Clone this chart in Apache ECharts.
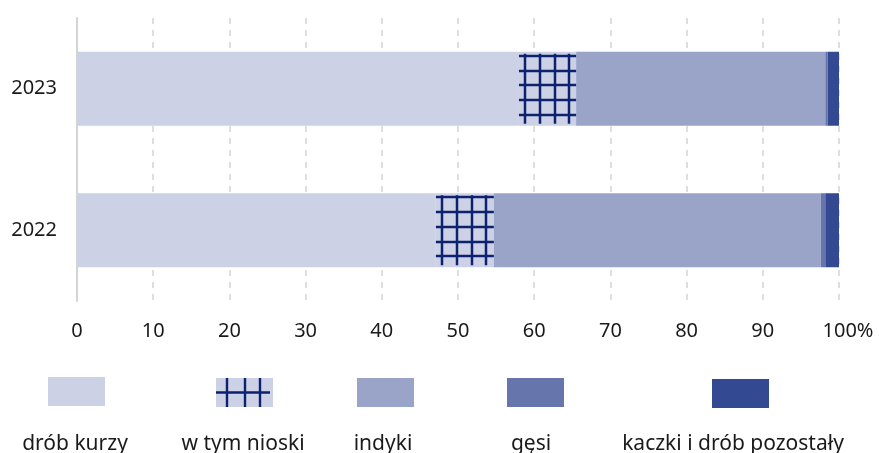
<!DOCTYPE html>
<html>
<head>
<meta charset="utf-8">
<script src="https://cdn.jsdelivr.net/npm/echarts@6/dist/echarts.min.js"></script>
<style>
  html, body { margin: 0; padding: 0; background: #fff; }
  #chart { width: 879px; height: 453px; }
</style>
</head>
<body>
<div id="chart"></div>
<script>
  // dane (%)
  const years = ['2023', '2022'];
  const kurzyRest = [58.0, 47.1];   // drób kurzy bez niosek
  const nioski = [7.5, 7.6];        // w tym nioski
  const indyki = [32.7, 42.9];
  const gesi = [0.3, 0.6];
  const kaczki = [1.5, 1.8];

  const cKurzy = '#ccd1e5';
  const cIndyki = '#9aa4c8';
  const cGesi = '#6676ad';
  const cKaczki = '#334a93';
  const cHatch = '#0c2170';
  const barH = 74;
  const font = 'Noto Sans';
  const fs = 20;

  // ikonka legendy dla niosek
  function hatchIcon () {
    const cv = document.createElement('canvas');
    cv.width = 57; cv.height = 29;
    const ctx = cv.getContext('2d');
    ctx.fillStyle = cKurzy;
    ctx.fillRect(0, 0, 57, 29);
    ctx.strokeStyle = cHatch;
    ctx.lineWidth = 2.4;
    ctx.beginPath();
    ctx.moveTo(0, 14.5); ctx.lineTo(54, 14.5);
    [11, 29, 44].forEach(x => { ctx.moveTo(x, 0); ctx.lineTo(x, 29); });
    ctx.stroke();
    return 'image://' + cv.toDataURL();
  }

  const hatchData = years.map((y, i) => [kurzyRest[i], kurzyRest[i] + nioski[i], i]);

  function renderHatch (params, api) {
    const idx = api.value(2);
    const p0 = api.coord([api.value(0), idx]);
    const p1 = api.coord([api.value(1), idx]);
    const top = p0[1] - barH / 2;
    const step = barH / 5;
    const style = { stroke: cHatch, lineWidth: 2.5 };
    const children = [];
    for (let i = 0; i < 5; i++) {
      const y = Math.round(top + step * (i + 0.27));
      children.push({ type: 'line', shape: { x1: p0[0], y1: y, x2: p1[0], y2: y }, style });
    }
    for (let x = p0[0] + 6; x < p1[0] - 2; x += step) {
      const xx = Math.round(x);
      children.push({ type: 'line', shape: { x1: xx, y1: top + 2, x2: xx, y2: top + barH - 2 }, style });
    }
    return { type: 'group', children };
  }

  const chart = echarts.init(document.getElementById('chart'));

  const legendPos = [
    { name: 'drób kurzy', left: 48, top: 377, cx: 75, icon: 'rect' },
    { name: 'w tym nioski', left: 216, top: 378, cx: 243, icon: hatchIcon() },
    { name: 'indyki', left: 357, top: 378, cx: 383, icon: 'rect' },
    { name: 'gęsi', left: 507, top: 378, cx: 531, icon: 'rect' },
    { name: 'kaczki i drób pozostały', left: 712, top: 379, cx: 733, icon: 'rect' }
  ];

  const option = {
    animation: false,
    textStyle: { fontFamily: font },
    grid: { left: 77, right: 40, top: 18, bottom: 152, containLabel: false },
    legend: legendPos.map(l => ({
      data: [{ name: l.name, icon: l.icon }],
      left: l.left,
      top: l.top,
      padding: 0,
      itemWidth: 57,
      itemHeight: 29,
      selectedMode: false,
      formatter: () => ''
    })),
    graphic: legendPos.map(l => ({
      type: 'text',
      x: l.cx,
      y: 444,
      style: {
        text: l.name,
        fill: '#1a1a1a',
        font: '21px "' + font + '"',
        textAlign: 'center',
        textVerticalAlign: 'middle'
      }
    })),
    xAxis: {
      type: 'value',
      min: 0,
      max: 100,
      interval: 10,
      axisLine: { show: false },
      axisTick: { show: false },
      splitLine: {
        lineStyle: { color: '#d4d4d4', width: 1.5, type: [6, 6] }
      },
      axisLabel: {
        margin: 20,
        color: '#1a1a1a',
        fontSize: fs,
        fontFamily: font,
        formatter: v => (v === 100 ? '{s|}100%' : String(v)),
        rich: { s: { width: 18 } }
      }
    },
    yAxis: {
      type: 'category',
      data: years,
      inverse: true,
      axisLine: { show: true, lineStyle: { color: '#d4d4d4', width: 2 } },
      axisTick: { show: false },
      axisLabel: { margin: 20, color: '#1a1a1a', fontSize: fs, fontFamily: font }
    },
    series: [
      { name: 'drób kurzy', type: 'bar', stack: 'a', barWidth: barH, data: kurzyRest, itemStyle: { color: cKurzy } },
      { name: 'w tym nioski', type: 'bar', stack: 'a', barWidth: barH, data: nioski, itemStyle: { color: cKurzy } },
      { name: 'indyki', type: 'bar', stack: 'a', barWidth: barH, data: indyki, itemStyle: { color: cIndyki } },
      { name: 'gęsi', type: 'bar', stack: 'a', barWidth: barH, data: gesi, itemStyle: { color: cGesi } },
      { name: 'kaczki i drób pozostały', type: 'bar', stack: 'a', barWidth: barH, data: kaczki, itemStyle: { color: cKaczki } },
      {
        type: 'custom',
        renderItem: renderHatch,
        data: hatchData,
        encode: { x: [0, 1], y: 2 },
        z: 5,
        silent: true
      }
    ]
  };

  chart.setOption(option);
</script>
</body>
</html>
